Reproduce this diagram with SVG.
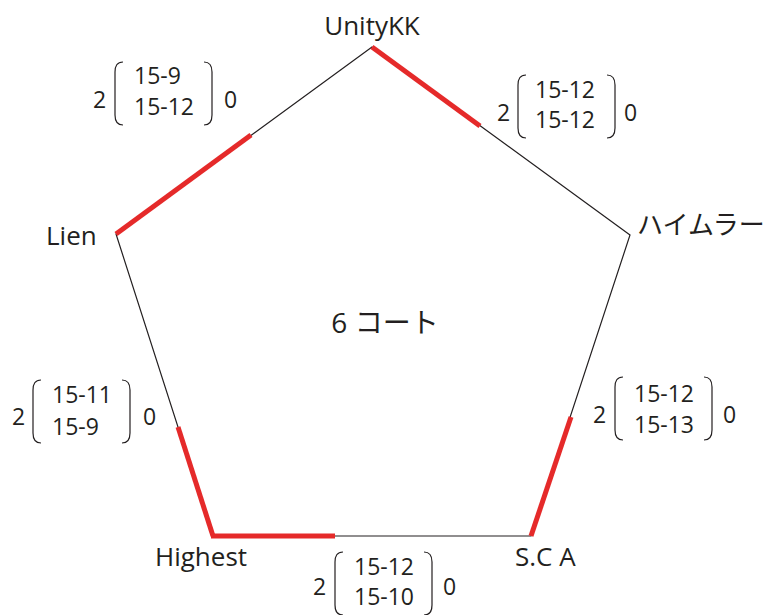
<svg xmlns="http://www.w3.org/2000/svg" width="774" height="615" viewBox="0 0 774 615">
<style>
text{font-family:"Open Sans","Noto Sans CJK JP",sans-serif;fill:#231f20}
.lbl{font-size:26px}
.sc{font-size:23px}
.br{fill:none;stroke:#231f20;stroke-width:1.2}
.edge{fill:none;stroke:#231f20;stroke-width:1.2}
.win{stroke:#e52a2a;stroke-width:5;fill:none}
</style>
<defs>
<path id="brk" class="br" d="M8,0 C2,0 0,4 0,10 L0,53 C0,59 2,63 8,63 M89,0 C95,0 97,4 97,10 L97,53 C97,59 95,63 89,63"/>
</defs>
<g id="connectors">
<polygon class="edge" points="372,47 630,235 531,536 213,536 116,234"/>
<line class="win" x1="372" y1="47" x2="480" y2="126"/>
<line class="win" x1="116" y1="234" x2="251" y2="135"/>
<line class="win" x1="178" y1="427" x2="213" y2="536"/>
<line class="win" x1="211" y1="536" x2="335" y2="536"/>
<line class="win" x1="531" y1="536" x2="571" y2="417"/>
</g>
<g id="center"><text class="lbl" x="385" y="333" text-anchor="middle" style="font-size:28px">6 コート</text></g>
<g id="n-unity"><text class="lbl" x="372" y="35" text-anchor="middle">UnityKK</text></g>
<g id="n-haimura"><text class="lbl" x="637" y="234">ハイムラー</text></g>
<g id="n-lien"><text class="lbl" x="46" y="245">Lien</text></g>
<g id="n-highest"><text class="lbl" x="155" y="566">Highest</text></g>
<g id="n-sca"><text class="lbl" x="515" y="566">S.C A</text></g>
<g id="s1" transform="translate(115,62)">
<use href="#brk"/>
<text class="sc" x="-22" y="46">2</text>
<text class="sc" x="19" y="22">15-9</text>
<text class="sc" x="19" y="53">15-12</text>
<text class="sc" x="109" y="46">0</text>
</g>
<g id="s2" transform="translate(518,75)">
<use href="#brk"/>
<text class="sc" x="-21" y="46">2</text>
<text class="sc" x="17" y="23">15-12</text>
<text class="sc" x="17" y="53">15-12</text>
<text class="sc" x="106" y="46">0</text>
</g>
<g id="s3" transform="translate(33,380)">
<use href="#brk"/>
<text class="sc" x="-21" y="45">2</text>
<text class="sc" x="19" y="23">15-11</text>
<text class="sc" x="19" y="55">15-9</text>
<text class="sc" x="110" y="45">0</text>
</g>
<g id="s4" transform="translate(615,377)">
<use href="#brk"/>
<text class="sc" x="-22" y="46">2</text>
<text class="sc" x="19" y="25">15-12</text>
<text class="sc" x="19" y="56">15-13</text>
<text class="sc" x="108" y="46">0</text>
</g>
<g id="s5" transform="translate(335,552)">
<use href="#brk"/>
<text class="sc" x="-22" y="43">2</text>
<text class="sc" x="19" y="23">15-12</text>
<text class="sc" x="19" y="53">15-10</text>
<text class="sc" x="108" y="43">0</text>
</g>
</svg>
